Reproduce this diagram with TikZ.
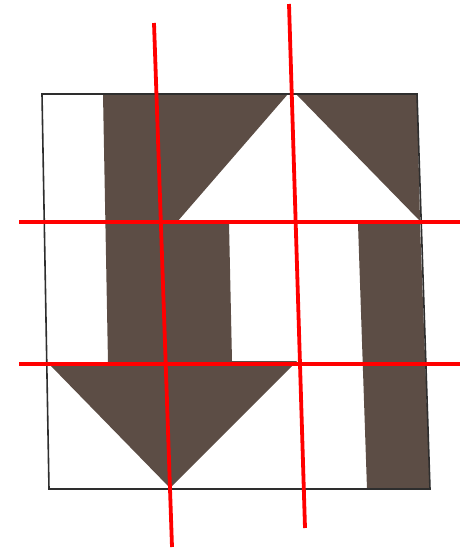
\documentclass[tikz,border=0pt]{standalone}
\usepackage{tikz}
\definecolor{umber}{HTML}{5C4D45}
\definecolor{frame}{HTML}{2E2E2E}
\definecolor{guide}{HTML}{FF0000}

\begin{document}
\begin{tikzpicture}[x=1pt, y=-1pt,
  piece/.style={fill=umber, draw=none},
  border/.style={draw=frame, line width=1.6pt, line join=miter},
  guideline/.style={draw=guide, line width=3.8pt}]

  \useasboundingbox[fill=white] (0,0) rectangle (465,549);

  % dark pieces
  \fill[piece] (103,94) -- (288,94) -- (177,222) -- (229,223) -- (232,361)
    -- (297,361) -- (170,488) -- (50,365) -- (108,363) -- cycle;
  \fill[piece] (296,94) -- (417,94) -- (420,221) -- cycle;
  \fill[piece] (358,224) -- (420,224) -- (430,489) -- (367,489) -- cycle;

  % outer frame
  \draw[border] (42,94) -- (417,94) -- (430,489) -- (49,489) -- cycle;

  % red guide lines
  \draw[guideline] (154,23) -- (172,547);
  \draw[guideline] (289,4) -- (305,528);
  \draw[guideline] (19,222) -- (460,222);
  \draw[guideline] (19,364) -- (460,364);
\end{tikzpicture}
\end{document}
